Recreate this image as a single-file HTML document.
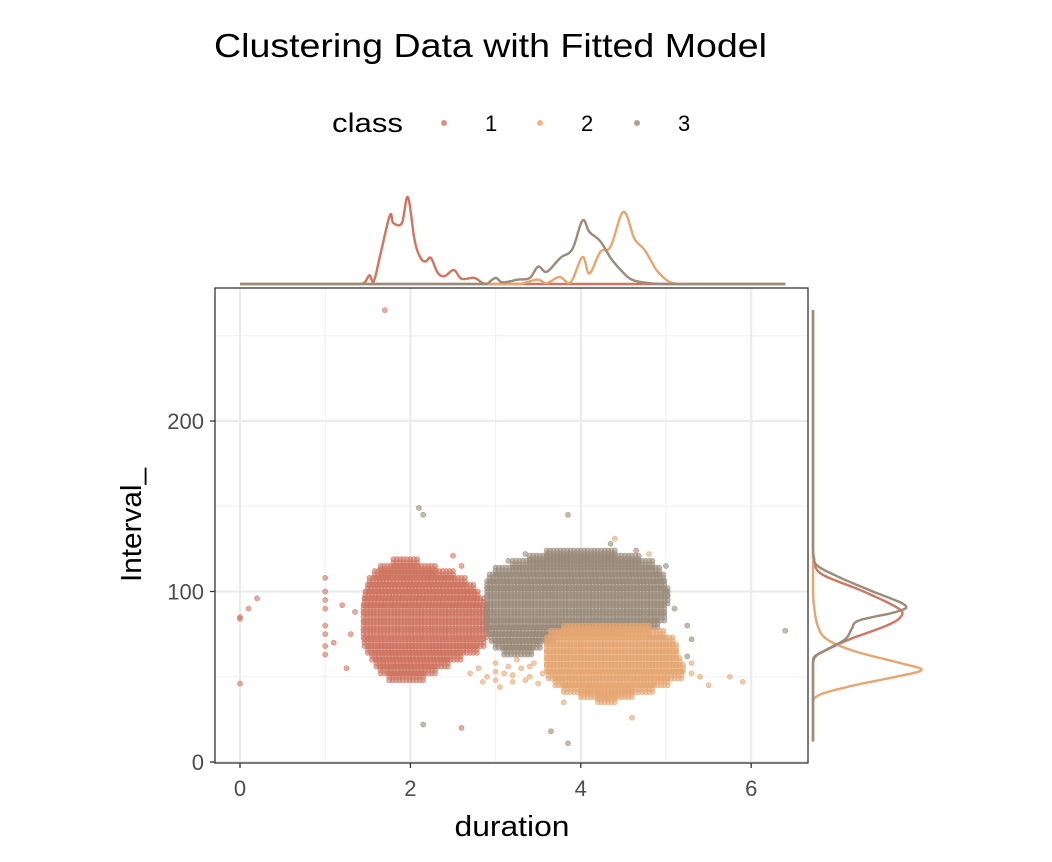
<!DOCTYPE html>
<html><head><meta charset="utf-8"><style>
html,body{margin:0;padding:0;background:#fff;}
svg{display:block;font-family:"Liberation Sans",sans-serif;}
</style></head><body>
<svg id="chart" width="1052" height="862">
<text x="214" y="57" font-size="33" fill="#000" textLength="553" lengthAdjust="spacingAndGlyphs">Clustering Data with Fitted Model</text>
<g>
<text x="332" y="132" font-size="27" textLength="71" lengthAdjust="spacingAndGlyphs">class</text>
<circle cx="444" cy="123" r="3" fill="#cf7560" opacity="0.8"/>
<text x="485" y="131" font-size="22">1</text>
<circle cx="540" cy="123" r="3" fill="#e6a672" opacity="0.8"/>
<text x="581" y="131" font-size="22">2</text>
<circle cx="637" cy="123" r="3" fill="#9a8b7a" opacity="0.8"/>
<text x="678" y="131" font-size="22">3</text>
</g>
<g id="grid"></g>
<g id="points"></g>
<rect x="215" y="288" width="593" height="475" fill="none" stroke="#333" stroke-width="1.3"/>
<g id="axes"></g>
<g id="margins"></g>
<text x="512" y="836" font-size="29" text-anchor="middle" textLength="115" lengthAdjust="spacingAndGlyphs">duration</text>
<text transform="translate(141,525) rotate(-90)" font-size="29" text-anchor="middle" textLength="114" lengthAdjust="spacingAndGlyphs">Interval_</text>
</svg>
<script>
const xTicks=[0,2,4,6];
const yTicks=[0,100,200];
const xMinor=[1,3,5];
const yMinor=[50,150,250];
// cluster row spans: [interval, durationMin, durationMax]
const rows1=[[117,1.8,2.1],[113,1.65,2.3],[110,1.58,2.5],[106,1.52,2.65],[102,1.5,2.75],[98,1.47,2.82],[94,1.46,2.86],[90,1.45,2.9],[85,1.45,2.9],[80,1.45,2.9],[75,1.45,2.9],[70,1.46,2.88],[66,1.5,2.8],[62,1.55,2.6],[58,1.6,2.45],[54,1.65,2.3],[50,1.75,2.15]];
const rows3=[[122,3.6,4.4],[119,3.4,4.7],[116,3.2,4.85],[112,3.0,4.95],[108,2.93,5.0],[104,2.9,5.0],[100,2.9,5.02],[95,2.9,5.02],[90,2.9,5.0],[85,2.9,4.98],[81,2.9,4.9],[77,2.92,4.5],[73,2.95,3.7],[69,3.0,3.55],[65,3.1,3.45]];
const rows2=[[78,3.8,4.8],[75,3.65,5.0],[71,3.6,5.1],[67,3.6,5.12],[63,3.6,5.15],[59,3.6,5.18],[55,3.6,5.2],[51,3.62,5.2],[47,3.7,5.05],[43,3.8,4.85],[40,4.0,4.6],[37,4.2,4.4]];
const sparse2=[[2.8,55],[2.9,50],[3.0,48],[3.1,52],[3.2,47],[3.3,55],[3.4,50],[3.5,46],[2.7,52],[3.0,58],[3.25,60],[3.45,58],[2.85,47],[3.05,44],[3.15,56],[3.35,48],[3.55,52],[3.0,53],[3.2,51],[3.4,56],[5.3,52],[5.4,50],[5.5,45],[5.75,50],[5.9,47],[5.3,58],[4.4,131],[4.8,122],[4.6,26],[3.8,35]];
const out1=[[0,85],[0,84],[0.1,90],[0.2,96],[0,46],[1,108],[1,100],[1,95],[1,90],[1,80],[1,75],[1,68],[1,63],[1.1,70],[1.2,92],[1.25,55],[1.3,75],[1.7,265],[2.5,121],[2.6,20],[2.6,115],[1.35,88]];
const out3=[[2.1,149],[2.15,145],[3.85,145],[2.15,22],[3.65,18],[3.85,11],[6.4,77],[5.25,80],[5.3,72],[5.25,62],[3.35,122],[4.35,128],[4.65,124],[5.0,100],[5.1,90],[5.0,115],[3.15,118]];
// marginal density [duration, relative height]
const topRed=[[1.3,0],[1.45,0.01],[1.52,0.1],[1.57,0.03],[1.65,0.35],[1.76,0.79],[1.8,0.7],[1.9,0.7],[1.97,1.0],[2.05,0.5],[2.12,0.3],[2.18,0.26],[2.24,0.3],[2.32,0.13],[2.4,0.09],[2.51,0.16],[2.6,0.06],[2.75,0.07],[2.85,0.01],[2.95,0]];
const topGray=[[2.9,0],[3.0,0.07],[3.08,0.02],[3.26,0.05],[3.4,0.07],[3.5,0.2],[3.6,0.14],[3.76,0.3],[3.9,0.4],[4.02,0.73],[4.1,0.6],[4.23,0.49],[4.35,0.3],[4.47,0.16],[4.6,0.05],[4.8,0.01],[5.0,0]];
const topOrange=[[3.3,0],[3.49,0.05],[3.6,0.01],[3.75,0.08],[3.88,0.02],[4.02,0.31],[4.1,0.12],[4.23,0.37],[4.35,0.43],[4.5,0.83],[4.63,0.52],[4.75,0.39],[4.89,0.16],[5.03,0.03],[5.15,0]];
const rightRed=[[125,0],[118,0.01],[110,0.1],[100,0.55],[90,0.93],[85,0.95],[80,0.8],[72,0.4],[65,0.12],[62,0.03],[58,0],[50,0]];
const rightGray=[[125,0],[120,0.01],[115,0.05],[108,0.3],[100,0.65],[92,1.0],[88,0.9],[83,0.5],[78,0.42],[72,0.35],[66,0.15],[62,0.02],[58,0],[50,0]];
const rightOrange=[[100,0],[92,0.01],[80,0.05],[72,0.15],[65,0.45],[58,0.95],[54,1.18],[50,0.9],[45,0.45],[40,0.1],[36,0],[30,0]];

const NS="http://www.w3.org/2000/svg";
const sx=v=>240+v*85.2;
const sy=v=>762-v*1.705;
const C1="#cf7560",C2="#e6a672",C3="#9a8b7a";
function mk(tag,attrs,parent){const e=document.createElementNS(NS,tag);for(const k in attrs)e.setAttribute(k,attrs[k]);parent.appendChild(e);return e;}
const grid=document.getElementById('grid'),axes=document.getElementById('axes'),pts=document.getElementById('points'),mg=document.getElementById('margins');
xMinor.forEach(v=>{const l=mk('line',{x1:sx(v),x2:sx(v),y1:288,y2:763,stroke:'#f2f2f2','stroke-width':1.2},grid);});
yMinor.forEach(v=>{const l=mk('line',{x1:215,x2:808,y1:sy(v),y2:sy(v),stroke:'#f2f2f2','stroke-width':1.2},grid);});
xTicks.forEach(v=>{const l=mk('line',{x1:sx(v),x2:sx(v),y1:288,y2:763,stroke:'#ebebeb','stroke-width':2.2},grid);
 const t=mk('line',{x1:sx(v),x2:sx(v),y1:763,y2:768,stroke:'#333','stroke-width':1.3},axes);
 const tx=mk('text',{x:sx(v),y:796,'font-size':22,fill:'#4d4d4d','text-anchor':'middle'},axes);tx.textContent=v;});
yTicks.forEach(v=>{const l=mk('line',{x1:215,x2:808,y1:sy(v),y2:sy(v),stroke:'#ebebeb','stroke-width':2.2},grid);
 const t=mk('line',{x1:210,x2:215,y1:sy(v),y2:sy(v),stroke:'#333','stroke-width':1.3},axes);
 const tx=mk('text',{x:204,y:sy(v)+8,'font-size':22,fill:'#4d4d4d','text-anchor':'end'},axes);tx.textContent=v;});
function dot(x,y,c,name){const d=mk('circle',{cx:sx(x),cy:sy(y),r:2.6,fill:c,'fill-opacity':0.6,stroke:c,'stroke-opacity':0.7,'stroke-width':0.6},pts);}
function fillRows(rows,c,name){rows.forEach(r=>{for(let yy=r[0]-2;yy<=r[0]+2;yy+=2){for(let x=r[1];x<=r[2]+1e-9;x+=0.04){dot(x,yy,c,name);}}});}
out1.forEach(p=>dot(p[0],p[1],C1,'point-class-1'));
fillRows(rows1,C1,'point-class-1');
sparse2.forEach(p=>dot(p[0],p[1],C2,'point-class-2'));
fillRows(rows3,C3,'point-class-3');
fillRows(rows2,C2,'point-class-2');
out3.forEach(p=>dot(p[0],p[1],C3,'point-class-3'));
// marginals: smoothed in value space, clamped to baseline
const topBase=284,topScale=87,rightBase=813,rightScale=92;
function smoothPts(P){const out=[];for(let i=0;i<P.length-1;i++){const p0=P[Math.max(0,i-1)],p1=P[i],p2=P[i+1],p3=P[Math.min(P.length-1,i+2)];for(let k=0;k<10;k++){const t=k/10,t2=t*t,t3=t2*t;const f=(a,b,c,d)=>0.5*((2*b)+(-a+c)*t+(2*a-5*b+4*c-d)*t2+(-a+3*b-3*c+d)*t3);out.push([f(p0[0],p1[0],p2[0],p3[0]),Math.max(0,f(p0[1],p1[1],p2[1],p3[1]))]);}}out.push(P[P.length-1]);return out;}
function topLine(d,c,name){const S=smoothPts(d);const P=[[0,0]].concat(S,[[6.4,0]]);const s=P.map((p,i)=>(i?'L':'M')+sx(p[0]).toFixed(1)+','+(topBase-p[1]*topScale).toFixed(1)).join('');const e=mk('path',{d:s,fill:'none',stroke:c,'stroke-width':2.4,'stroke-linejoin':'round'},mg);}
function rightLine(d,c,name){const S=smoothPts(d);const P=[[265,0]].concat(S,[[12,0]]);const s=P.map((p,i)=>(i?'L':'M')+(rightBase+p[1]*rightScale).toFixed(1)+','+sy(p[0]).toFixed(1)).join('');const e=mk('path',{d:s,fill:'none',stroke:c,'stroke-width':2.4,'stroke-linejoin':'round'},mg);}
topLine(topRed,C1,'top-density-class-1');topLine(topOrange,C2,'top-density-class-2');topLine(topGray,C3,'top-density-class-3');
rightLine(rightRed,C1,'right-density-class-1');rightLine(rightOrange,C2,'right-density-class-2');rightLine(rightGray,C3,'right-density-class-3');
</script>
</body></html>
